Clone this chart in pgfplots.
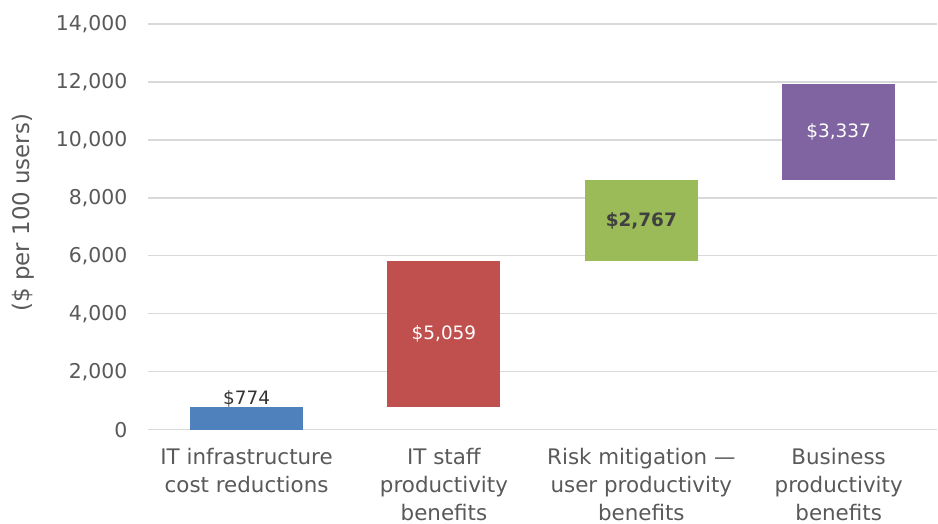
\documentclass[border=0pt]{standalone}
\usepackage{pgfplots}
\pgfplotsset{compat=1.18}
\usepackage{fontspec}
\setmainfont{DejaVu Sans}
\definecolor{cblue}{HTML}{4F81BD}
\definecolor{cred}{HTML}{C0504D}
\definecolor{cgreen}{HTML}{9BBB59}
\definecolor{cpurple}{HTML}{8064A2}
\definecolor{tgray}{HTML}{595959}
\definecolor{ggray}{HTML}{D9D9D9}
\begin{document}
\begin{tikzpicture}
\begin{axis}[
  scale only axis,
  width=790bp, height=406bp,
  xmin=-0.5, xmax=3.5, ymin=0, ymax=14000,
  ytick={0,2000,...,14000},
  scaled y ticks=false,
  xtick={0,1,2,3},
  xticklabels={{IT infrastructure\\cost reductions},{IT staff\\productivity\\benefits},{Risk mitigation ---\\user productivity\\benefits},{Business\\productivity\\benefits}},
  x tick label style={align=center, font=\fontsize{21.5}{28}\selectfont, text=tgray, yshift=-15bp},
  y tick label style={font=\fontsize{20.5}{24}\selectfont, text=tgray, xshift=-17bp},
  /pgf/number format/assume math mode=true,
  /pgf/number format/fixed,
  /pgf/number format/1000 sep={,},
  ymajorgrids, grid style={ggray, line width=1.3pt},
  axis x line*=bottom, axis y line*=left,
  x axis line style={ggray, line width=1.3pt},
  y axis line style={draw=none},
  major tick length=0pt,
  ylabel={(\$ per 100 users)},
  every axis y label/.style={at={(axis description cs:0,0.535)}, xshift=-125bp, rotate=90, anchor=center, font=\fontsize{23}{26}\selectfont, text=tgray},
  clip=false,
]
% bars: (left,bottom) (right,bottom) (right,top) (left,top)
\addplot[draw=none, fill=cblue] coordinates {(-0.2865,0) (0.2865,0) (0.2865,774) (-0.2865,774)} -- cycle;
\addplot[draw=none, fill=cred] coordinates {(0.7135,774) (1.2865,774) (1.2865,5833) (0.7135,5833)} -- cycle;
\addplot[draw=none, fill=cgreen] coordinates {(1.7135,5833) (2.2865,5833) (2.2865,8600) (1.7135,8600)} -- cycle;
\addplot[draw=none, fill=cpurple] coordinates {(2.7135,8600) (3.2865,8600) (3.2865,11937) (2.7135,11937)} -- cycle;
\node[anchor=base, font=\fontsize{18.5}{22}\selectfont, text=black!80] at (axis cs:0,860) {\$774};
\node[font=\fontsize{18.5}{22}\selectfont, text=white] at (axis cs:1,3303) {\$5,059};
\node[font=\fontsize{18.5}{22}\selectfont\bfseries, text=black!75] at (axis cs:2,7216) {\$2,767};
\node[font=\fontsize{18.5}{22}\selectfont, text=white] at (axis cs:3,10268) {\$3,337};
\end{axis}
\path ([yshift=24bp]current axis.north) ([xshift=-148bp]current axis.west);
\end{tikzpicture}
\end{document}
